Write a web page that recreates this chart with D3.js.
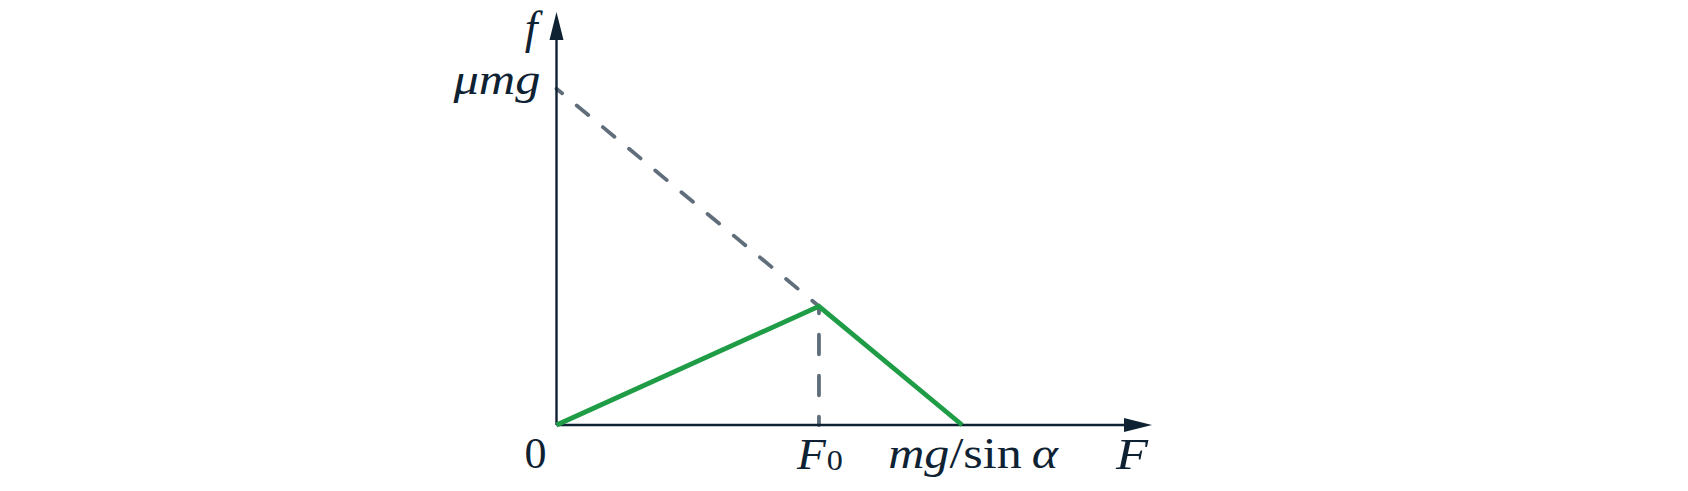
<!DOCTYPE html>
<html>
<head>
<meta charset="utf-8">
<script src="https://cdn.jsdelivr.net/npm/d3@7"></script>
<style>
  html, body { margin: 0; padding: 0; background: #ffffff; }
  svg { display: block; }
  text { font-family: "Liberation Serif", "Times New Roman", serif; fill: #0f2233; }
</style>
</head>
<body>
<svg id="chart" width="1688" height="491"></svg>
<script>
// ---- data (normalised: mg/sinα = 1 on the F axis, μmg = 1 on the f axis) ----
const xKeyValues = [0, 0.647, 1];            // 0, F0, mg/sinα
const xKeyLabels = ["0", "F0", "mg/sinα"];
const yKeyValues = [1];                      // μmg
const yKeyLabels = ["μmg"];
const frictionX = [0, 0.647, 1];             // actual friction f(F)
const frictionY = [0, 0.353, 0];
const limitX = [0, 0.647];                   // max static friction line (dashed)
const limitY = [1, 0.353];
const axisMax = { x: 1.468, y: 1.228 };

const svg = d3.select("#chart");

const x = d3.scaleLinear().domain([0, axisMax.x]).range([556.5, 1152]);
const y = d3.scaleLinear().domain([0, axisMax.y]).range([425, 12]);

const ink = "#0f2233", green = "#1f9c46", grey = "#5f6e7a";
const arrowLen = 28, arrowHalf = 7;

const line = d3.line().x((d) => x(d[0])).y((d) => y(d[1]));

// dashed max-static-friction line
svg.append("path")
  .attr("d", line(d3.zip(limitX, limitY)))
  .attr("fill", "none").attr("stroke", grey).attr("stroke-width", 3.8)
  .attr("stroke-linecap", "round")
  .attr("stroke-dasharray", "15,19").attr("stroke-dashoffset", 7.75);

// vertical dashed line at F0
svg.append("path")
  .attr("d", line([[xKeyValues[1], 0], [xKeyValues[1], frictionY[1]]]))
  .attr("fill", "none").attr("stroke", grey).attr("stroke-width", 3.8)
  .attr("stroke-linecap", "round")
  .attr("stroke-dasharray", "19.5,21.5").attr("stroke-dashoffset", 11.25);

// axes
svg.append("line")
  .attr("x1", x(0)).attr("x2", x(axisMax.x) - arrowLen + 1)
  .attr("y1", y(0)).attr("y2", y(0))
  .attr("stroke", ink).attr("stroke-width", 2.4);
svg.append("line")
  .attr("x1", x(0)).attr("x2", x(0))
  .attr("y1", y(0)).attr("y2", y(axisMax.y) + arrowLen - 1)
  .attr("stroke", ink).attr("stroke-width", 2.4);
// arrowheads
svg.append("path")
  .attr("d", `M${x(axisMax.x)},${y(0)} L${x(axisMax.x) - arrowLen},${y(0) - arrowHalf} L${x(axisMax.x) - arrowLen},${y(0) + arrowHalf} Z`)
  .attr("fill", ink);
svg.append("path")
  .attr("d", `M${x(0)},${y(axisMax.y)} L${x(0) - arrowHalf},${y(axisMax.y) + arrowLen} L${x(0) + arrowHalf},${y(axisMax.y) + arrowLen} Z`)
  .attr("fill", ink);

// friction curve
svg.append("path")
  .attr("d", line(d3.zip(frictionX, frictionY)))
  .attr("fill", "none").attr("stroke", green).attr("stroke-width", 4.8)
  .attr("stroke-linejoin", "miter");

// ---- labels ----
const fs = 44;
const baseY = 468;

// axis names
svg.append("text").attr("x", x(0) - 19).attr("y", y(axisMax.y) + 31)
  .attr("text-anchor", "end").attr("font-size", fs + 2).attr("font-style", "italic")
  .text("f");
svg.append("text").attr("x", x(axisMax.x) - 4).attr("y", baseY + 1)
  .attr("text-anchor", "end").attr("font-size", fs).attr("font-style", "italic")
  .attr("textLength", 32).attr("lengthAdjust", "spacingAndGlyphs")
  .text("F");

// y key label μmg
svg.append("text").attr("x", x(0) - 16).attr("y", y(yKeyValues[0]) + 5)
  .attr("text-anchor", "end").attr("font-size", fs).attr("font-style", "italic")
  .attr("textLength", 87).attr("lengthAdjust", "spacingAndGlyphs")
  .text(yKeyLabels[0]);

// x key labels
svg.append("text").attr("x", x(xKeyValues[0]) - 21).attr("y", baseY)
  .attr("text-anchor", "middle").attr("font-size", fs)
  .text(xKeyLabels[0]);
const tF0 = svg.append("text").attr("x", x(xKeyValues[1]) + 1).attr("y", baseY + 1)
  .attr("text-anchor", "middle").attr("font-size", fs)
  .attr("textLength", 46).attr("lengthAdjust", "spacingAndGlyphs");
tF0.append("tspan").attr("font-style", "italic").text("F");
tF0.append("tspan").attr("font-size", 30).attr("dy", 1).attr("dx", 1).text("0");
const tMg = svg.append("text").attr("x", x(xKeyValues[2]) + 11).attr("y", baseY)
  .attr("text-anchor", "middle").attr("font-size", fs)
  .attr("textLength", 170).attr("lengthAdjust", "spacingAndGlyphs");
tMg.append("tspan").attr("font-style", "italic").text("mg");
tMg.append("tspan").text("/sin\u2009");
tMg.append("tspan").attr("font-style", "italic").text("α");
</script>
</body>
</html>
